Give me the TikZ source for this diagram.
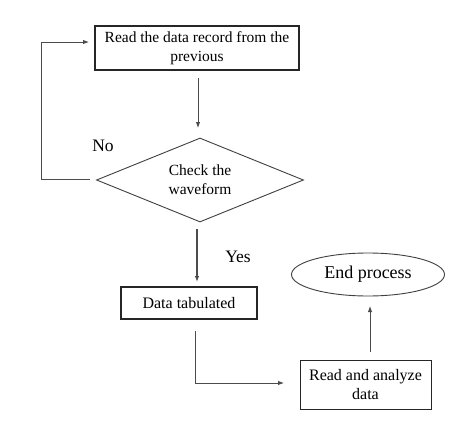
\documentclass[tikz,border=0pt]{standalone}
\usepackage{fontspec}
\setmainfont{Liberation Serif}
\usetikzlibrary{shapes.geometric,arrows.meta}
\begin{document}
\begin{tikzpicture}[x=1pt,y=-1pt,
  boxstyle/.style={draw=black!85,line width=1.1pt,rectangle,inner sep=0pt,align=center,font=\fontsize{16}{19}\selectfont},
  conn/.style={draw=black!70,line width=0.9pt},
  arr/.style={conn,-{Latex[length=6pt,width=4.5pt]}},
  lbl/.style={font=\fontsize{17.5}{20}\selectfont}]
\useasboundingbox (0,0) rectangle (474,423);
\fill[white] (0,0) rectangle (474,423);
\node[boxstyle,minimum width=204pt,minimum height=44pt,font=\fontsize{15.5}{19}\selectfont] (read) at (197,48) {Read the data record from the\\previous};
\node[draw=black!75,line width=0.9pt,diamond,aspect=2.46,minimum width=207pt,minimum height=84pt,inner sep=0pt,align=center,font=\fontsize{15.5}{19}\selectfont] (check) at (200,180) {Check the\\waveform};
\node[boxstyle,minimum width=136pt,minimum height=32pt] (tab) at (189,303) {Data tabulated};
\node[boxstyle,line width=0.9pt,minimum width=131pt,minimum height=49pt] (ana) at (365.5,384.5) {Read and analyze\\data};
\node[draw=black!75,line width=0.9pt,ellipse,minimum width=153pt,minimum height=43pt,inner sep=0pt,font=\fontsize{18}{20}\selectfont] (end) at (368,274.5) {End process};
\node[lbl] (no) at (103,146) {No};
\node[lbl] (yes) at (238,257) {Yes};
\coordinate (c1) at (198,78);
\coordinate (c2) at (198,128);
\draw[arr] (c1) -- (c2);
\coordinate (l1) at (90,179);
\coordinate (l2) at (89,42);
\draw[arr] (l1) -- (41,179) -- (41,42) -- (l2);
\coordinate (y1) at (197,229);
\coordinate (y2) at (197,282);
\draw[arr,line width=1.1pt] (y1) -- (y2);
\coordinate (t1) at (195,331);
\coordinate (t2) at (284,383);
\draw[arr] (t1) |- (t2);
\coordinate (u1) at (370,352);
\coordinate (u2) at (370,306);
\draw[arr] (u1) -- (u2);
\end{tikzpicture}
\end{document}
